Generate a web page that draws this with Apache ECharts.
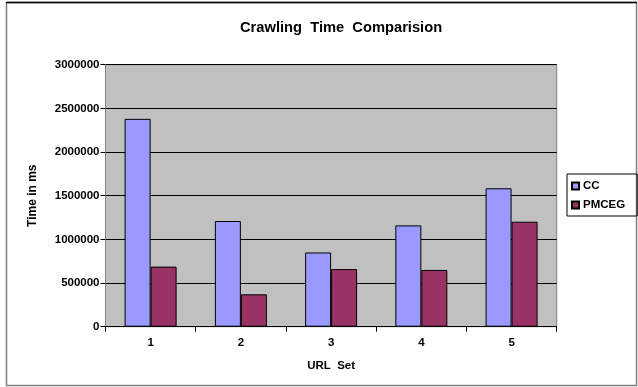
<!DOCTYPE html>
<html>
<head>
<meta charset="utf-8">
<script src="https://cdn.jsdelivr.net/npm/echarts@6/dist/echarts.min.js"></script>
<style>
  html, body { margin: 0; padding: 0; background: #fff; }
  #chart { width: 638px; height: 387px; }
</style>
</head>
<body>
<div id="chart"></div>
<script>
// URL sets on the x axis
const categories = ['1', '2', '3', '4', '5'];
// Crawling time in ms for each crawler
const ccValues = [2380000, 1210000, 850000, 1160000, 1585000];
const pmcegValues = [688000, 371000, 660000, 650000, 1202000];
const seriesNames = ['CC', 'PMCEG'];

const FONT = 'Liberation Sans, Arial, sans-serif';
const chart = echarts.init(document.getElementById('chart'), null, { renderer: 'canvas' });

const gridBox = { left: 105.5, top: 64.7, right: 81.3, bottom: 60.3 };

chart.setOption({
  animation: false,
  backgroundColor: '#ffffff',
  title: {
    text: 'Crawling  Time  Comparision',
    left: 235, top: 15,
    textStyle: { fontFamily: FONT, fontSize: 14.7, fontWeight: 'bold', color: '#000' }
  },
  graphic: [
    {
      type: 'rect', silent: true, z: -1,
      shape: { x: 6.5, y: 2.5, width: 630, height: 383 },
      style: { fill: 'none', stroke: '#808080', lineWidth: 1.5 }
    },
    {
      type: 'line', silent: true,
      shape: { x1: 6, y1: 2.5, x2: 637, y2: 2.5 },
      style: { stroke: '#000', lineWidth: 1.5 }
    }
  ],
  legend: {
    data: seriesNames,
    orient: 'vertical',
    left: 567, top: 174,
    width: 68,
    padding: [6, 12, 5, 4],
    itemGap: 7,
    itemWidth: 7, itemHeight: 7,
    borderColor: '#000', borderWidth: 1,
    icon: 'rect',
    textStyle: { fontFamily: FONT, fontSize: 11.5, fontWeight: 'bold', color: '#000', padding: [0, 0, 0, -1] }
  },
  grid: Object.assign({ show: true, backgroundColor: '#C0C0C0', borderColor: '#808080', borderWidth: 1 }, gridBox),
  xAxis: {
    type: 'category',
    data: categories,
    name: 'URL  Set',
    nameLocation: 'middle',
    nameGap: 33,
    nameTextStyle: { fontFamily: FONT, fontSize: 11.5, fontWeight: 'bold', color: '#000' },
    axisLine: { lineStyle: { color: '#000', width: 1 } },
    axisTick: { show: true, length: 5, lineStyle: { color: '#000' } },
    axisLabel: { fontFamily: FONT, fontSize: 11.5, fontWeight: 'bold', color: '#000', margin: 10 }
  },
  yAxis: {
    type: 'value',
    min: 0, max: 3000000, interval: 500000,
    name: 'Time in ms',
    nameLocation: 'middle',
    nameGap: 67,
    nameTextStyle: { fontFamily: FONT, fontSize: 12, fontWeight: 'bold', color: '#000' },
    axisLine: { show: true, lineStyle: { color: '#808080' } },
    axisTick: { show: true, length: 5, lineStyle: { color: '#000' } },
    axisLabel: {
      fontFamily: FONT, fontSize: 11.5, fontWeight: 'bold', color: '#000', margin: 6,
      formatter: function (v) { return String(v); }
    },
    splitLine: { show: true, lineStyle: { color: '#000', width: 1 } }
  },
  series: [
    {
      name: seriesNames[0], type: 'bar', data: ccValues,
      barWidth: 26, barGap: '0%',
      itemStyle: { color: '#9999FF', borderColor: '#000', borderWidth: 1 }
    },
    {
      name: seriesNames[1], type: 'bar', data: pmcegValues,
      barWidth: 26, barGap: '0%',
      itemStyle: { color: '#993366', borderColor: '#000', borderWidth: 1 }
    }
  ]
});
</script>
</body>
</html>
